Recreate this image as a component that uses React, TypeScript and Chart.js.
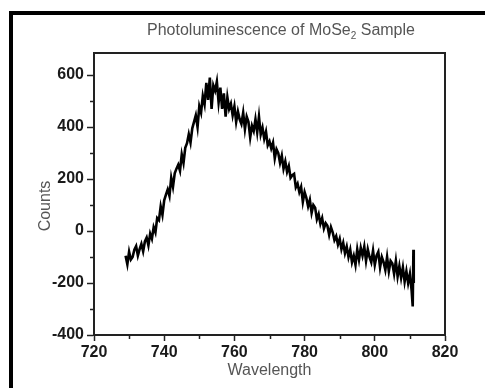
import React, { useEffect, useRef } from "react";
import { Chart, registerables } from "chart.js";

Chart.register(...registerables);

const wavelengths = [
  729, 729.5, 730, 730.5, 731, 731.5, 732, 732.5, 733, 733.5, 734, 734.5, 735, 735.5, 736, 736.5,
  737, 737.5, 738, 738.5, 739, 739.5, 740, 740.5, 741, 741.5, 742, 742.5, 743, 743.5, 744, 744.5,
  745, 745.5, 746, 746.5, 747, 747.5, 748, 748.5, 749, 749.5, 750, 750.5, 751, 751.5, 752, 752.5,
  753, 753.5, 754, 754.5, 755, 755.5, 756, 756.5, 757, 757.5, 758, 758.5, 759, 759.5, 760, 760.5,
  761, 761.5, 762, 762.5, 763, 763.5, 764, 764.5, 765, 765.5, 766, 766.5, 767, 767.5, 768, 768.5,
  769, 769.5, 770, 770.5, 771, 771.5, 772, 772.5, 773, 773.5, 774, 774.5, 775, 775.5, 776, 776.5,
  777, 777.5, 778, 778.5, 779, 779.5, 780, 780.5, 781, 781.5, 782, 782.5, 783, 783.5, 784, 784.5,
  785, 785.5, 786, 786.5, 787, 787.5, 788, 788.5, 789, 789.5, 790, 790.5, 791, 791.5, 792, 792.5,
  793, 793.5, 794, 794.5, 795, 795.5, 796, 796.5, 797, 797.5, 798, 798.5, 799, 799.5, 800, 800.5,
  801, 801.5, 802, 802.5, 803, 803.5, 804, 804.5, 805, 805.5, 806, 806.5, 807, 807.5, 808, 808.5,
  809, 809.5, 810, 810.5, 810.8, 811, 811.1,
];

const counts = [
  -95, -128, -80, -110, -100, -72, -58, -95, -70, -50, -78, -40, -25, -55, -10, -30,
  15, -5, 50, 42, 95, 62, 118, 140, 160, 135, 205, 170, 222, 240, 255, 232,
  295, 262, 320, 338, 372, 340, 395, 420, 445, 400, 480, 455, 520, 488, 570, 505,
  590, 470, 560, 540, 575, 495, 552, 470, 530, 440, 515, 470, 490, 445, 480, 420,
  460, 430, 412, 455, 392, 440, 420, 360, 405, 385, 430, 380, 440, 372, 398, 355,
  382, 330, 345, 318, 340, 280, 315, 300, 262, 290, 240, 268, 228, 250, 205, 215,
  220, 168, 182, 150, 170, 112, 150, 128, 95, 120, 70, 100, 90, 45, 65, 28,
  50, 10, 30, 20, -15, 15, -5, -35, -20, -52, -30, -70, -45, -85, -60, -100,
  -72, -120, -95, -130, -70, -110, -65, -95, -60, -115, -70, -100, -120, -75, -130, -95,
  -80, -140, -100, -120, -150, -100, -155, -115, -125, -165, -115, -175, -135, -180, -140, -195,
  -155, -200, -165, -230, -290, -72, -200,
];

const xTicks = [720, 740, 760, 780, 800, 820];
const yTicks = [-400, -200, 0, 200, 400, 600];
const xMinorTicks = [730, 750, 770, 790, 810];
const yMinorTicks = [-300, -100, 100, 300, 500];

const titleMain = "Photoluminescence of MoSe";
const titleSub = "2";
const titleEnd = " Sample";
const xTitle = "Wavelength";
const yTitle = "Counts";

const FONT = '"Liberation Sans", Arial, sans-serif';

export default function App() {
  const ref = useRef<HTMLCanvasElement | null>(null);

  useEffect(() => {
    if (!ref.current) return;
    const decor = {
      id: "decor",
      afterDraw(chart: any) {
        const { ctx, chartArea: a, scales } = chart;
        const x = scales.x;
        const y = scales.y;
        ctx.save();
        ctx.strokeStyle = "#222";
        ctx.lineWidth = 2;
        ctx.strokeRect(a.left, a.top, a.right - a.left, a.bottom - a.top);
        ctx.lineWidth = 1.5;
        ctx.beginPath();
        xMinorTicks.forEach((v) => {
          const px = Math.round(x.getPixelForValue(v)) + 0.5;
          ctx.moveTo(px, a.bottom);
          ctx.lineTo(px, a.bottom + 4);
        });
        yMinorTicks.forEach((v) => {
          const py = Math.round(y.getPixelForValue(v)) + 0.5;
          ctx.moveTo(a.left - 4, py);
          ctx.lineTo(a.left, py);
        });
        ctx.stroke();
        ctx.fillStyle = "#555";
        ctx.textBaseline = "alphabetic";
        ctx.textAlign = "left";
        ctx.font = `16px ${FONT}`;
        const w1 = ctx.measureText(titleMain).width;
        const w3 = ctx.measureText(titleEnd).width;
        ctx.font = `10px ${FONT}`;
        const w2 = ctx.measureText(titleSub).width;
        const total = w1 + w2 + w3;
        let tx = 281 - total / 2;
        ctx.font = `16px ${FONT}`;
        ctx.fillText(titleMain, tx, 35);
        tx += w1;
        ctx.font = `10px ${FONT}`;
        ctx.fillText(titleSub, tx, 39);
        tx += w2;
        ctx.font = `16px ${FONT}`;
        ctx.fillText(titleEnd, tx, 35);
        ctx.textAlign = "center";
        ctx.fillText(xTitle, (a.left + a.right) / 2, 375);
        ctx.translate(50, 206);
        ctx.rotate(-Math.PI / 2);
        ctx.fillText(yTitle, 0, 0);
        ctx.restore();
      },
    };

    const chart = new Chart(ref.current, {
      type: "line",
      data: {
        datasets: [
          {
            data: wavelengths.map((w, i) => ({ x: w, y: counts[i] })),
            borderColor: "#000",
            borderWidth: 2.6,
            pointRadius: 0,
            tension: 0,
            fill: false,
          },
        ],
      },
      options: {
        responsive: false,
        animation: false,
        layout: { padding: { left: 0, right: 40, top: 53, bottom: 0 } },
        plugins: {
          legend: { display: false },
          title: { display: false },
          tooltip: { enabled: false },
        },
        scales: {
          x: {
            type: "linear",
            min: 720,
            max: 820,
            afterBuildTicks: (s: any) => {
              s.ticks = xTicks.map((v) => ({ value: v }));
            },
            afterFit: (s: any) => {
              s.height = 53;
            },
            grid: {
              drawOnChartArea: false,
              drawTicks: true,
              tickLength: 6,
              tickColor: "#222",
              tickWidth: 1.5,
            },
            border: { display: true, color: "#222", width: 2 },
            ticks: {
              color: "#1a1a1a",
              font: { family: FONT, size: 16, weight: "bold" },
              padding: 2,
              maxRotation: 0,
              autoSkip: false,
            },
          },
          y: {
            type: "linear",
            min: -400,
            max: 685,
            afterBuildTicks: (s: any) => {
              s.ticks = yTicks.map((v) => ({ value: v }));
            },
            afterFit: (s: any) => {
              s.width = 94;
            },
            grid: {
              drawOnChartArea: false,
              drawTicks: true,
              tickLength: 7,
              tickColor: "#222",
              tickWidth: 1.5,
            },
            border: { display: true, color: "#222", width: 2 },
            ticks: {
              color: "#1a1a1a",
              font: { family: FONT, size: 16, weight: "bold" },
              padding: 3,
              autoSkip: false,
            },
          },
        },
      },
      plugins: [decor],
    } as any);

    return () => chart.destroy();
  }, []);

  return (
    <div
      style={{
        position: "absolute",
        left: 0,
        top: 0,
        width: 485,
        height: 388,
        background: "#fff",
        overflow: "hidden",
      }}
    >
      <canvas
        ref={ref}
        width={485}
        height={388}
        style={{ position: "absolute", left: 0, top: 0, width: 485, height: 388 }}
      />
      <div
        style={{
          position: "absolute",
          left: 9,
          top: 11,
          width: 480,
          height: 390,
          borderLeft: "4px solid #000",
          borderTop: "4px solid #000",
          boxSizing: "border-box",
          pointerEvents: "none",
        }}
      />
    </div>
  );
}
